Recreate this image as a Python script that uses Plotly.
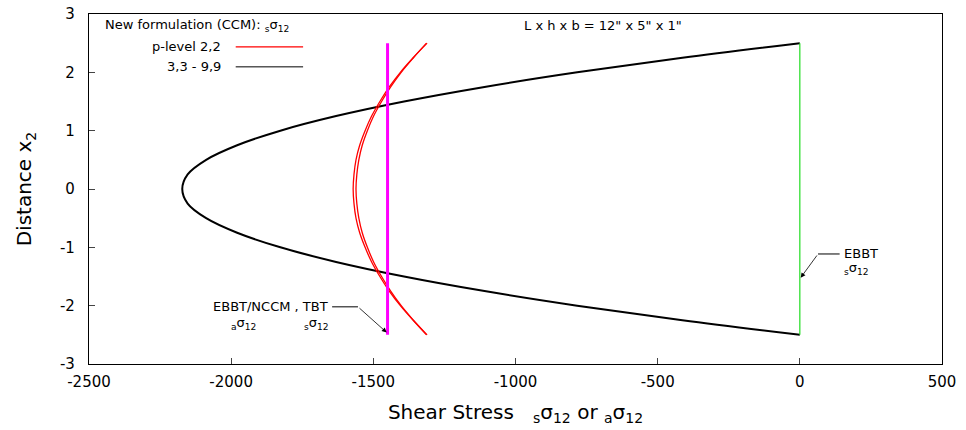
import plotly.graph_objects as go

# ---- data ----
y_pts = [-2.5, -2.25, -2.0, -1.75, -1.5, -1.25, -1.0, -0.75, -0.5, -0.25, 0.0,
         0.25, 0.5, 0.75, 1.0, 1.25, 1.5, 1.75, 2.0, 2.25, 2.5]
ccm_high = [0, -413, -783, -1109, -1392, -1631, -1827, -1979, -2088, -2153, -2172,
            -2153, -2088, -1979, -1827, -1631, -1392, -1109, -783, -413, 0]
ccm_p22_a = [-1311, -1360, -1405, -1444, -1477, -1506, -1529, -1548, -1561, -1568, -1571,
             -1568, -1561, -1548, -1529, -1506, -1477, -1444, -1405, -1360, -1311]
ccm_p22_b = [-1313, -1359, -1402, -1439, -1471, -1499, -1521, -1539, -1551, -1558, -1561,
             -1558, -1551, -1539, -1521, -1499, -1471, -1439, -1402, -1359, -1313]
ebbt_a_tbt_s = [-1450, -1450]   # aσ12 (EBBT/NCCM) and TBT sσ12
ebbt_s = [0, 0]                 # EBBT sσ12
line_y = [-2.5, 2.5]

x_ticks = [-2500, -2000, -1500, -1000, -500, 0, 500]
x_ticktext = ["-2500", "-2000", "-1500", "-1000", "-500", "0", "500"]
y_ticks = [-3, -2, -1, 0, 1, 2, 3]
y_ticktext = ["-3", "-2", "-1", "0", "1", "2", "3"]

FONT = "DejaVu Sans"

fig = go.Figure()
fig.add_trace(go.Scatter(x=ccm_high, y=y_pts, mode="lines", line=dict(color="black", width=2, shape="spline"),
                         showlegend=False))
fig.add_trace(go.Scatter(x=ccm_p22_a, y=y_pts, mode="lines", line=dict(color="#ff0000", width=1.3, shape="spline"),
                         showlegend=False))
fig.add_trace(go.Scatter(x=ccm_p22_b, y=y_pts, mode="lines", line=dict(color="#ff0000", width=1.3, shape="spline"),
                         showlegend=False))
fig.add_trace(go.Scatter(x=ebbt_a_tbt_s, y=line_y, mode="lines", line=dict(color="#ff00ff", width=3),
                         showlegend=False))
fig.add_trace(go.Scatter(x=ebbt_s, y=line_y, mode="lines", line=dict(color="#22dd22", width=1.2),
                         showlegend=False))

annos = []
tf = dict(family=FONT, size=13, color="black")
# top-left legend block
annos.append(dict(xref="paper", yref="paper", x=0.016, y=0.966, xanchor="left", yanchor="middle",
                  text="New formulation (CCM): <sub>s</sub>σ<sub>12</sub>", showarrow=False, font=tf))
annos.append(dict(xref="paper", yref="paper", x=0.157, y=0.906, xanchor="right", yanchor="middle",
                  text="p-level 2,2", showarrow=False, font=tf))
annos.append(dict(xref="paper", yref="paper", x=0.157, y=0.849, xanchor="right", yanchor="middle",
                  text="3,3 - 9,9", showarrow=False, font=tf))
annos.append(dict(xref="paper", yref="paper", x=0.6026, y=0.966, xanchor="center", yanchor="middle",
                  text="L x h x b = 12\" x 5\" x 1\"", showarrow=False, font=tf))
# EBBT/NCCM, TBT label with arrow
annos.append(dict(x=-1652, y=-2.02, xanchor="right", yanchor="middle",
                  text="EBBT/NCCM , TBT", showarrow=False, font=tf))
annos.append(dict(x=-1955, y=-2.3, xanchor="center", yanchor="middle",
                  text="<sub>a</sub>σ<sub>12</sub>", showarrow=False, font=tf))
annos.append(dict(x=-1700, y=-2.3, xanchor="center", yanchor="middle",
                  text="<sub>s</sub>σ<sub>12</sub>", showarrow=False, font=tf))
annos.append(dict(x=-1453, y=-2.46, ax=-1554, ay=-2.02, axref="x", ayref="y", text="",
                  showarrow=True, arrowhead=2, arrowsize=1.2, arrowwidth=0.8, arrowcolor="black"))
# EBBT label with arrow
annos.append(dict(x=150, y=-1.114, xanchor="left", yanchor="middle",
                  text="EBBT", showarrow=False, font=tf))
annos.append(dict(x=150, y=-1.37, xanchor="left", yanchor="middle",
                  text="<sub>s</sub>σ<sub>12</sub>", showarrow=False, font=tf))
annos.append(dict(x=3, y=-1.52, ax=64, ay=-1.114, axref="x", ayref="y", text="",
                  showarrow=True, arrowhead=2, arrowsize=1.2, arrowwidth=0.8, arrowcolor="black"))

shapes = [
    dict(type="line", xref="paper", yref="paper", x0=0.172, x1=0.251, y0=0.906, y1=0.906,
         line=dict(color="#ff0000", width=1.2)),
    dict(type="line", xref="paper", yref="paper", x0=0.172, x1=0.251, y0=0.849, y1=0.849,
         line=dict(color="black", width=1)),
    dict(type="line", x0=-1645, x1=-1554, y0=-2.02, y1=-2.02, line=dict(color="black", width=1)),
    dict(type="line", x0=64, x1=140, y0=-1.114, y1=-1.114, line=dict(color="black", width=1)),
]

fig.update_layout(
    width=966, height=430,
    margin=dict(l=89, r=24, t=14, b=66, autoexpand=False),
    paper_bgcolor="white", plot_bgcolor="white",
    font=dict(family=FONT, color="black"),
    annotations=annos, shapes=shapes,
    showlegend=False,
)
fig.update_xaxes(range=[-2500, 500], tickvals=x_ticks, ticktext=x_ticktext, ticks="inside", ticklen=6,
                 tickcolor="#444", automargin=False,
                 showline=True, linecolor="black", linewidth=1.3, mirror=True, showgrid=False, zeroline=False,
                 tickfont=dict(size=15, family=FONT), ticklabelstandoff=4,
                 title=dict(text="Shear Stress &nbsp;&nbsp;<sub>s</sub>σ<sub>12</sub> or <sub>a</sub>σ<sub>12</sub>",
                            font=dict(size=20, family=FONT), standoff=14))
fig.update_yaxes(range=[-3, 3], tickvals=y_ticks, ticktext=y_ticktext, ticks="inside", ticklen=6,
                 tickcolor="#444", automargin=False,
                 showline=True, linecolor="black", linewidth=1.3, mirror=True, showgrid=False, zeroline=False,
                 tickfont=dict(size=15, family=FONT), ticklabelstandoff=10,
                 title=dict(text="Distance x<sub>2</sub>", font=dict(size=20, family=FONT), standoff=22))

fig.write_html("out.html")
